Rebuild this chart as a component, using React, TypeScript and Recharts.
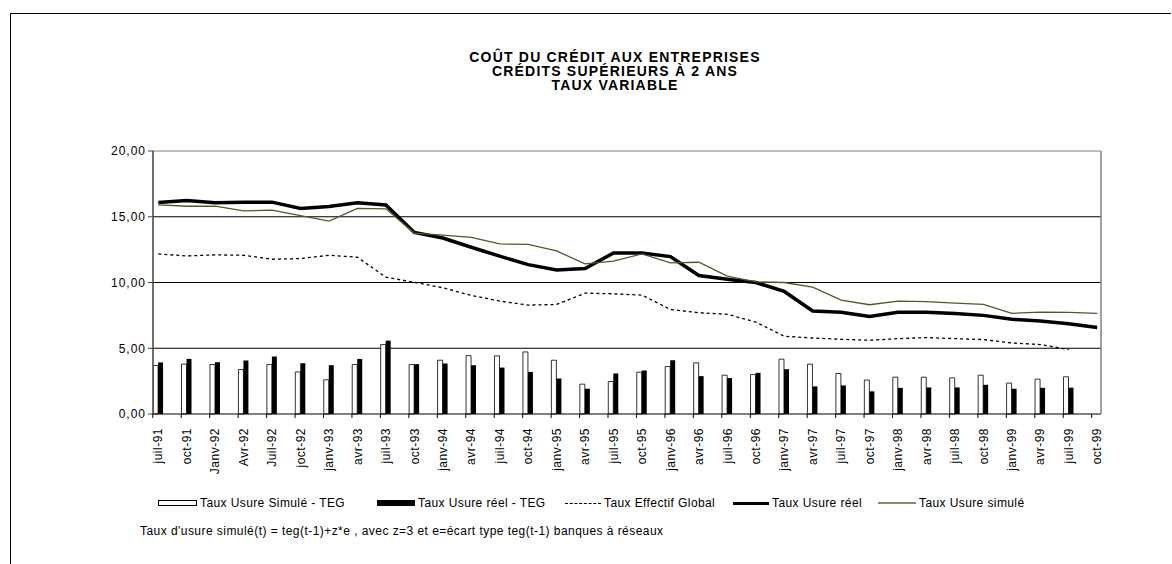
import React from 'react';
import {
  ComposedChart,
  Bar,
  Line,
  XAxis,
  YAxis,
  CartesianGrid,
  ReferenceLine,
} from 'recharts';

const categories = [
  'juil-91', 'oct-91', 'Janv-92', 'Avr-92', 'Juil-92', 'joct-92', 'janv-93', 'avr-93', 'juil-93',
  'oct-93', 'janv-94', 'avr-94', 'juil-94', 'oct-94', 'janv-95', 'avr-95', 'juil-95', 'oct-95',
  'janv-96', 'avr-96', 'juil-96', 'oct-96', 'janv-97', 'avr-97', 'juil-97', 'oct-97', 'janv-98',
  'avr-98', 'juil-98', 'oct-98', 'janv-99', 'avr-99', 'juil-99', 'oct-99',
];

const ecartSimule = [
  3.69, 3.79, 3.76, 3.38, 3.76, 3.2, 2.6, 3.76, 5.28, 3.76, 4.09, 4.44, 4.42, 4.72, 4.09, 2.27, 2.47,
  3.18, 3.61, 3.89, 2.95, 3.0, 4.17, 3.79, 3.08, 2.58, 2.8, 2.8, 2.75, 2.95, 2.35, 2.65, 2.83, null,
];

const ecartReel = [
  3.92, 4.19, 3.94, 4.07, 4.37, 3.86, 3.71, 4.19, 5.58, 3.79, 3.84, 3.71, 3.53, 3.2, 2.7, 1.92, 3.08,
  3.31, 4.09, 2.88, 2.73, 3.13, 3.41, 2.1, 2.17, 1.72, 1.99, 2.02, 2.02, 2.22, 1.92, 1.99, 2.0, null,
];

const tauxEffectif = [
  12.17, 12.02, 12.1, 12.07, 11.77, 11.82, 12.07, 11.92, 10.4, 10.02, 9.6, 9.02, 8.59, 8.28, 8.33,
  9.19, 9.14, 9.04, 7.95, 7.7, 7.58, 6.99, 5.91, 5.78, 5.68, 5.61, 5.73, 5.81, 5.73, 5.66, 5.4, 5.28,
  4.9, null,
];

const usureReel = [
  16.08, 16.24, 16.06, 16.11, 16.11, 15.63, 15.78, 16.06, 15.9, 13.81, 13.38, 12.68, 12.0, 11.36,
  10.96, 11.06, 12.25, 12.25, 11.97, 10.53, 10.25, 10.0, 9.32, 7.83, 7.73, 7.42, 7.73, 7.73, 7.65,
  7.5, 7.2, 7.07, 6.87, 6.57,
];

const usureSimule = [
  15.91, 15.8, 15.8, 15.45, 15.5, 15.08, 14.67, 15.63, 15.6, 13.76, 13.6, 13.43, 12.93, 12.9, 12.4,
  11.41, 11.62, 12.17, 11.49, 11.54, 10.48, 10.05, 10.0, 9.65, 8.66, 8.31, 8.59, 8.54, 8.43, 8.33,
  7.65, 7.75, 7.73, 7.65,
];

const yTicks = [0, 5, 10, 15, 20];

const titleLines = [
  'COÛT DU CRÉDIT AUX ENTREPRISES',
  'CRÉDITS SUPÉRIEURS À 2 ANS',
  'TAUX VARIABLE',
];

const seriesNames = [
  'Taux Usure Simulé - TEG',
  'Taux Usure réel - TEG',
  'Taux Effectif Global',
  'Taux Usure réel',
  'Taux Usure simulé',
];

const footnote =
  "Taux d'usure simulé(t) = teg(t-1)+z*e , avec z=3 et e=écart type teg(t-1) banques à réseaux";

const data = categories.map((label, i) => ({
  idx: i,
  label,
  ecartSimule: ecartSimule[i],
  ecartReel: ecartReel[i],
  tauxEffectif: tauxEffectif[i],
  usureReel: usureReel[i],
  usureSimule: usureSimule[i],
}));

const FONT = '"Liberation Sans", Arial, sans-serif';
const OLIVE = '#55552a';

const MonthTick = (props: any) => {
  const { x, y, payload } = props;
  return (
    <g>
      <line x1={x - 5.5} x2={x - 5.5} y1={y} y2={y + 4} stroke="#000" strokeWidth={1} />
      <text
        transform={`translate(${x},${y + 14}) rotate(-90)`}
        textAnchor="end"
        dy="0.35em"
        fontSize={12}
        letterSpacing={0.5}
        fontFamily={FONT}
        fill="#000"
      >
        {categories[payload.value]}
      </text>
    </g>
  );
};

const swatch = (i: number) => {
  if (i === 0)
    return <div style={{ width: 37, height: 4, border: '1px solid #000', background: '#fff' }} />;
  if (i === 1) return <div style={{ width: 38, height: 6, background: '#000' }} />;
  if (i === 2) return <div style={{ width: 36, height: 0, borderTop: '1px dashed #000' }} />;
  if (i === 3) return <div style={{ width: 36, height: 3, background: '#000' }} />;
  return <div style={{ width: 38, height: 1.5, background: '#8c8a6e' }} />;
};

const legendLeft = [158, 377, 565, 733, 878];

export default function App() {
  return (
    <div
      style={{
        position: 'absolute',
        left: 0,
        top: 0,
        width: 1172,
        height: 564,
        background: '#fff',
        fontFamily: FONT,
        overflow: 'hidden',
      }}
    >
      <div
        style={{
          position: 'absolute',
          left: 10,
          top: 13,
          width: 1160,
          height: 560,
          borderTop: '1px solid #000',
          borderLeft: '1px solid #000',
        }}
      />
      <div
        style={{
          position: 'absolute',
          left: 415,
          top: 50,
          width: 400,
          textAlign: 'center',
          fontWeight: 'bold',
          fontSize: 14,
          lineHeight: '14px',
          letterSpacing: 1.2,
        }}
      >
        {titleLines.map((t) => (
          <div key={t}>{t}</div>
        ))}
      </div>

      <div style={{ position: 'absolute', left: 0, top: 0 }}>
        <ComposedChart
          width={1172}
          height={564}
          data={data}
          margin={{ top: 151, right: 0, bottom: 0, left: 0 }}
          barGap={0}
        >
          <CartesianGrid
            vertical={false}
            horizontalValues={[5, 10, 15]}
            stroke="#000"
            strokeWidth={1}
          />
          <ReferenceLine y={20} stroke="#808080" strokeWidth={1} />
          <XAxis
            dataKey="idx"
            type="number"
            domain={[-0.186, 33.134]}
            allowDataOverflow
            ticks={categories.map((_, i) => i)}
            interval={0}
            height={150}
            tickLine={false}
            tickSize={0}
            tickMargin={0}
            tick={<MonthTick />}
            axisLine={{ stroke: '#000', strokeWidth: 1 }}
          />
          <YAxis
            domain={[0, 20]}
            ticks={yTicks}
            width={153}
            interval={0}
            tickSize={5}
            tickMargin={2}
            tickLine={{ stroke: '#404040' }}
            axisLine={{ stroke: '#404040', strokeWidth: 1.5 }}
            tickFormatter={(v: number) => v.toFixed(2).replace('.', ',')}
            tick={{ fontSize: 12, fill: '#000', fontFamily: FONT, letterSpacing: 1 }}
          />
          <YAxis
            yAxisId="frame"
            orientation="right"
            domain={[0, 20]}
            width={71}
            tick={false}
            tickLine={false}
            axisLine={{ stroke: '#808080', strokeWidth: 1.5 }}
          />
          <Bar
            dataKey="ecartSimule"
            name={seriesNames[0]}
            barSize={5}
            fill="#fff"
            stroke="#000"
            strokeWidth={0.8}
            isAnimationActive={false}
          />
          <Bar
            dataKey="ecartReel"
            name={seriesNames[1]}
            barSize={5}
            fill="#000"
            isAnimationActive={false}
          />
          <Line
            dataKey="tauxEffectif"
            name={seriesNames[2]}
            type="linear"
            stroke="#000"
            strokeWidth={1.3}
            strokeDasharray="3 3"
            dot={false}
            isAnimationActive={false}
          />
          <Line
            dataKey="usureReel"
            name={seriesNames[3]}
            type="linear"
            stroke="#000"
            strokeWidth={3.5}
            dot={false}
            isAnimationActive={false}
          />
          <Line
            dataKey="usureSimule"
            name={seriesNames[4]}
            type="linear"
            stroke={OLIVE}
            strokeWidth={1.3}
            dot={false}
            isAnimationActive={false}
          />
        </ComposedChart>
      </div>

      {seriesNames.map((name, i) => (
        <div
          key={name}
          style={{
            position: 'absolute',
            left: legendLeft[i],
            top: 494,
            height: 18,
            display: 'flex',
            alignItems: 'center',
            fontSize: 12,
            letterSpacing: 0.4,
            color: '#000',
            whiteSpace: 'nowrap',
          }}
        >
          {swatch(i)}
          <span style={{ marginLeft: 3 }}>{name}</span>
        </div>
      ))}

      <div
        style={{
          position: 'absolute',
          left: 140,
          top: 523,
          fontSize: 12,
          lineHeight: '16px',
          letterSpacing: 0.45,
          whiteSpace: 'nowrap',
        }}
      >
        {footnote}
      </div>
    </div>
  );
}
